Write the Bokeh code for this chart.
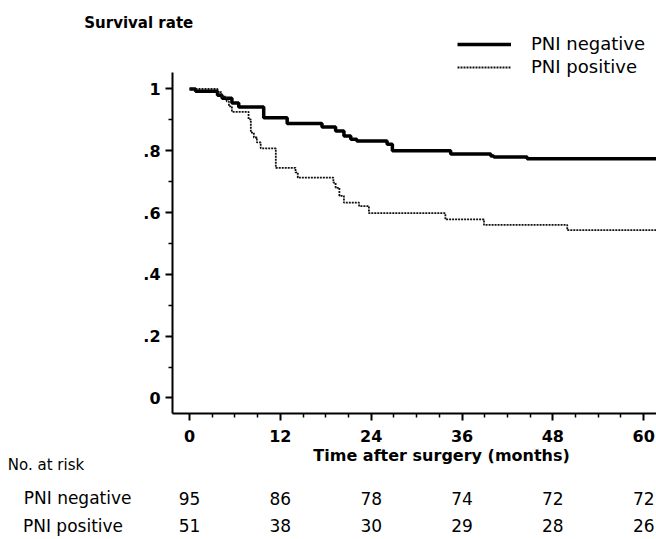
from bokeh.plotting import figure
from bokeh.models import (Range1d, FixedTicker, CustomJSTickFormatter, Label, LabelSet,
                          ColumnDataSource, Legend, LegendItem)
from bokeh.core.properties import value
from bokeh.embed import file_html
from bokeh.resources import INLINE

# ---- data ----
neg_time = [0, 0.8, 3.7, 4.3, 5.6, 6.5, 9.8, 12.9, 17.5, 19.3, 20.4, 21.3, 22.1,
            26.1, 26.8, 34.5, 39.8, 40.2, 44.6, 61.7]
neg_surv = [1.0, 0.993, 0.98, 0.97, 0.955, 0.942, 0.907, 0.888, 0.877, 0.864, 0.848,
            0.837, 0.832, 0.821, 0.80, 0.79, 0.783, 0.78, 0.774, 0.774]
pos_time = [0, 3.7, 4.2, 4.9, 5.2, 5.6, 7.8, 8.1, 8.5, 8.9, 9.4, 11.4, 14.0, 14.3,
            19.0, 19.3, 19.8, 20.4, 22.4, 23.7, 33.8, 38.9, 49.9, 61.7]
pos_surv = [1.0, 0.99, 0.975, 0.96, 0.944, 0.926, 0.902, 0.859, 0.843, 0.827, 0.808,
            0.745, 0.73, 0.713, 0.697, 0.68, 0.654, 0.632, 0.621, 0.598, 0.578, 0.56,
            0.543, 0.543]
x_ticks = [0, 12, 24, 36, 48, 60]
x_minor = [3, 6, 9, 15, 18, 21, 27, 30, 33, 39, 42, 45, 51, 54, 57]
y_ticks = [0, 0.2, 0.4, 0.6, 0.8, 1.0]
y_minor = [0.1, 0.3, 0.5, 0.7, 0.9]
risk_neg = [95, 86, 78, 74, 72, 72]
risk_pos = [51, 38, 30, 29, 28, 26]
series_names = ["PNI negative", "PNI positive"]

FONT = "DejaVu Sans"

X0, X1 = -24.97, 61.69      # visible month range over the whole canvas
Y0, Y1 = -0.458, 1.2864     # visible survival range over the whole canvas
XAX_AT, YAX_AT = -0.0502, -2.246
XB = (-2.246, 61.69)
YB = (-0.0502, 1.0534)

p = figure(width=656, height=539, output_backend="svg", toolbar_location=None,
           x_range=Range1d(X0, X1), y_range=Range1d(Y0, Y1),
           min_border_left=0, min_border_top=0, min_border_bottom=0,
           min_border_right=0)
p.outline_line_color = None
p.grid.visible = False
p.background_fill_color = "white"
p.border_fill_color = "white"

r_neg = p.step(neg_time, neg_surv, mode="after", line_color="black", line_width=3.5)
r_pos = p.step(pos_time, pos_surv, mode="after", line_color="#111111", line_width=1.8,
               line_dash="2 1")

# axes
for ax in (p.xaxis[0], p.yaxis[0]):
    ax.axis_line_width = 2
    ax.axis_line_color = "black"
    ax.major_tick_line_width = 2
    ax.minor_tick_line_width = 1.5
    ax.major_tick_in = 0
    ax.minor_tick_in = 0
    ax.major_tick_out = 7
    ax.minor_tick_out = 4
    ax.major_label_text_font = FONT
    ax.major_label_text_font_style = "bold"
    ax.major_label_text_font_size = "16px"
    ax.major_label_text_color = "black"

p.xaxis[0].ticker = FixedTicker(ticks=x_ticks, minor_ticks=x_minor)
p.xaxis[0].major_label_standoff = 10
p.xaxis[0].fixed_location = XAX_AT
p.xaxis[0].bounds = XB
p.yaxis[0].ticker = FixedTicker(ticks=y_ticks, minor_ticks=y_minor)
p.yaxis[0].major_label_standoff = 5
p.yaxis[0].fixed_location = YAX_AT
p.yaxis[0].bounds = YB
p.yaxis[0].formatter = CustomJSTickFormatter(code="""
    if (Math.abs(tick) < 1e-9) return "0";
    if (Math.abs(tick - 1) < 1e-9) return "1";
    return "." + Math.round(tick * 10);
""")

# axis titles
p.add_layout(Label(x=33.3, y=-0.186, text="Time after surgery (months)", text_font=FONT,
                   text_font_style="bold", text_font_size="16px", text_align="center",
                   text_baseline="middle", text_color="black"))
p.add_layout(Label(x=-13.9, y=1.212, text="Survival rate", text_font=FONT,
                   text_font_style="bold", text_font_size="15px", text_align="left",
                   text_baseline="middle", text_color="black"))

# number at risk table
p.add_layout(Label(x=-24.0, y=-0.218, text="No. at risk", text_font=FONT,
                   text_font_size="15px", text_align="left", text_baseline="middle",
                   text_color="black"))
p.add_layout(Label(x=-21.9, y=-0.325, text=series_names[0], text_font=FONT,
                   text_font_size="17px", text_align="left", text_baseline="middle",
                   text_color="black"))
p.add_layout(Label(x=-22.0, y=-0.413, text=series_names[1], text_font=FONT,
                   text_font_size="17px", text_align="left", text_baseline="middle",
                   text_color="black"))
src_neg = ColumnDataSource(dict(x=x_ticks, y=[-0.325] * len(x_ticks),
                                t=[str(v) for v in risk_neg]))
src_pos = ColumnDataSource(dict(x=x_ticks, y=[-0.413] * len(x_ticks),
                                t=[str(v) for v in risk_pos]))
for s in (src_neg, src_pos):
    p.add_layout(LabelSet(x="x", y="y", text="t", source=s, text_font=value(FONT),
                          text_font_size=value("17px"), text_align="center",
                          text_baseline="middle", text_color="black"))

# legend
legend = Legend(items=[LegendItem(label=series_names[0], renderers=[r_neg]),
                       LegendItem(label=series_names[1], renderers=[r_pos])],
                location=(457, 462), orientation="vertical",
                glyph_width=54, glyph_height=20, label_height=20, spacing=2,
                label_standoff=20, padding=0, margin=0,
                border_line_color=None, background_fill_alpha=0,
                label_text_font=FONT, label_text_font_size="18px",
                label_text_color="black")
p.add_layout(legend)

open("out.html", "w").write(file_html(p, INLINE))
